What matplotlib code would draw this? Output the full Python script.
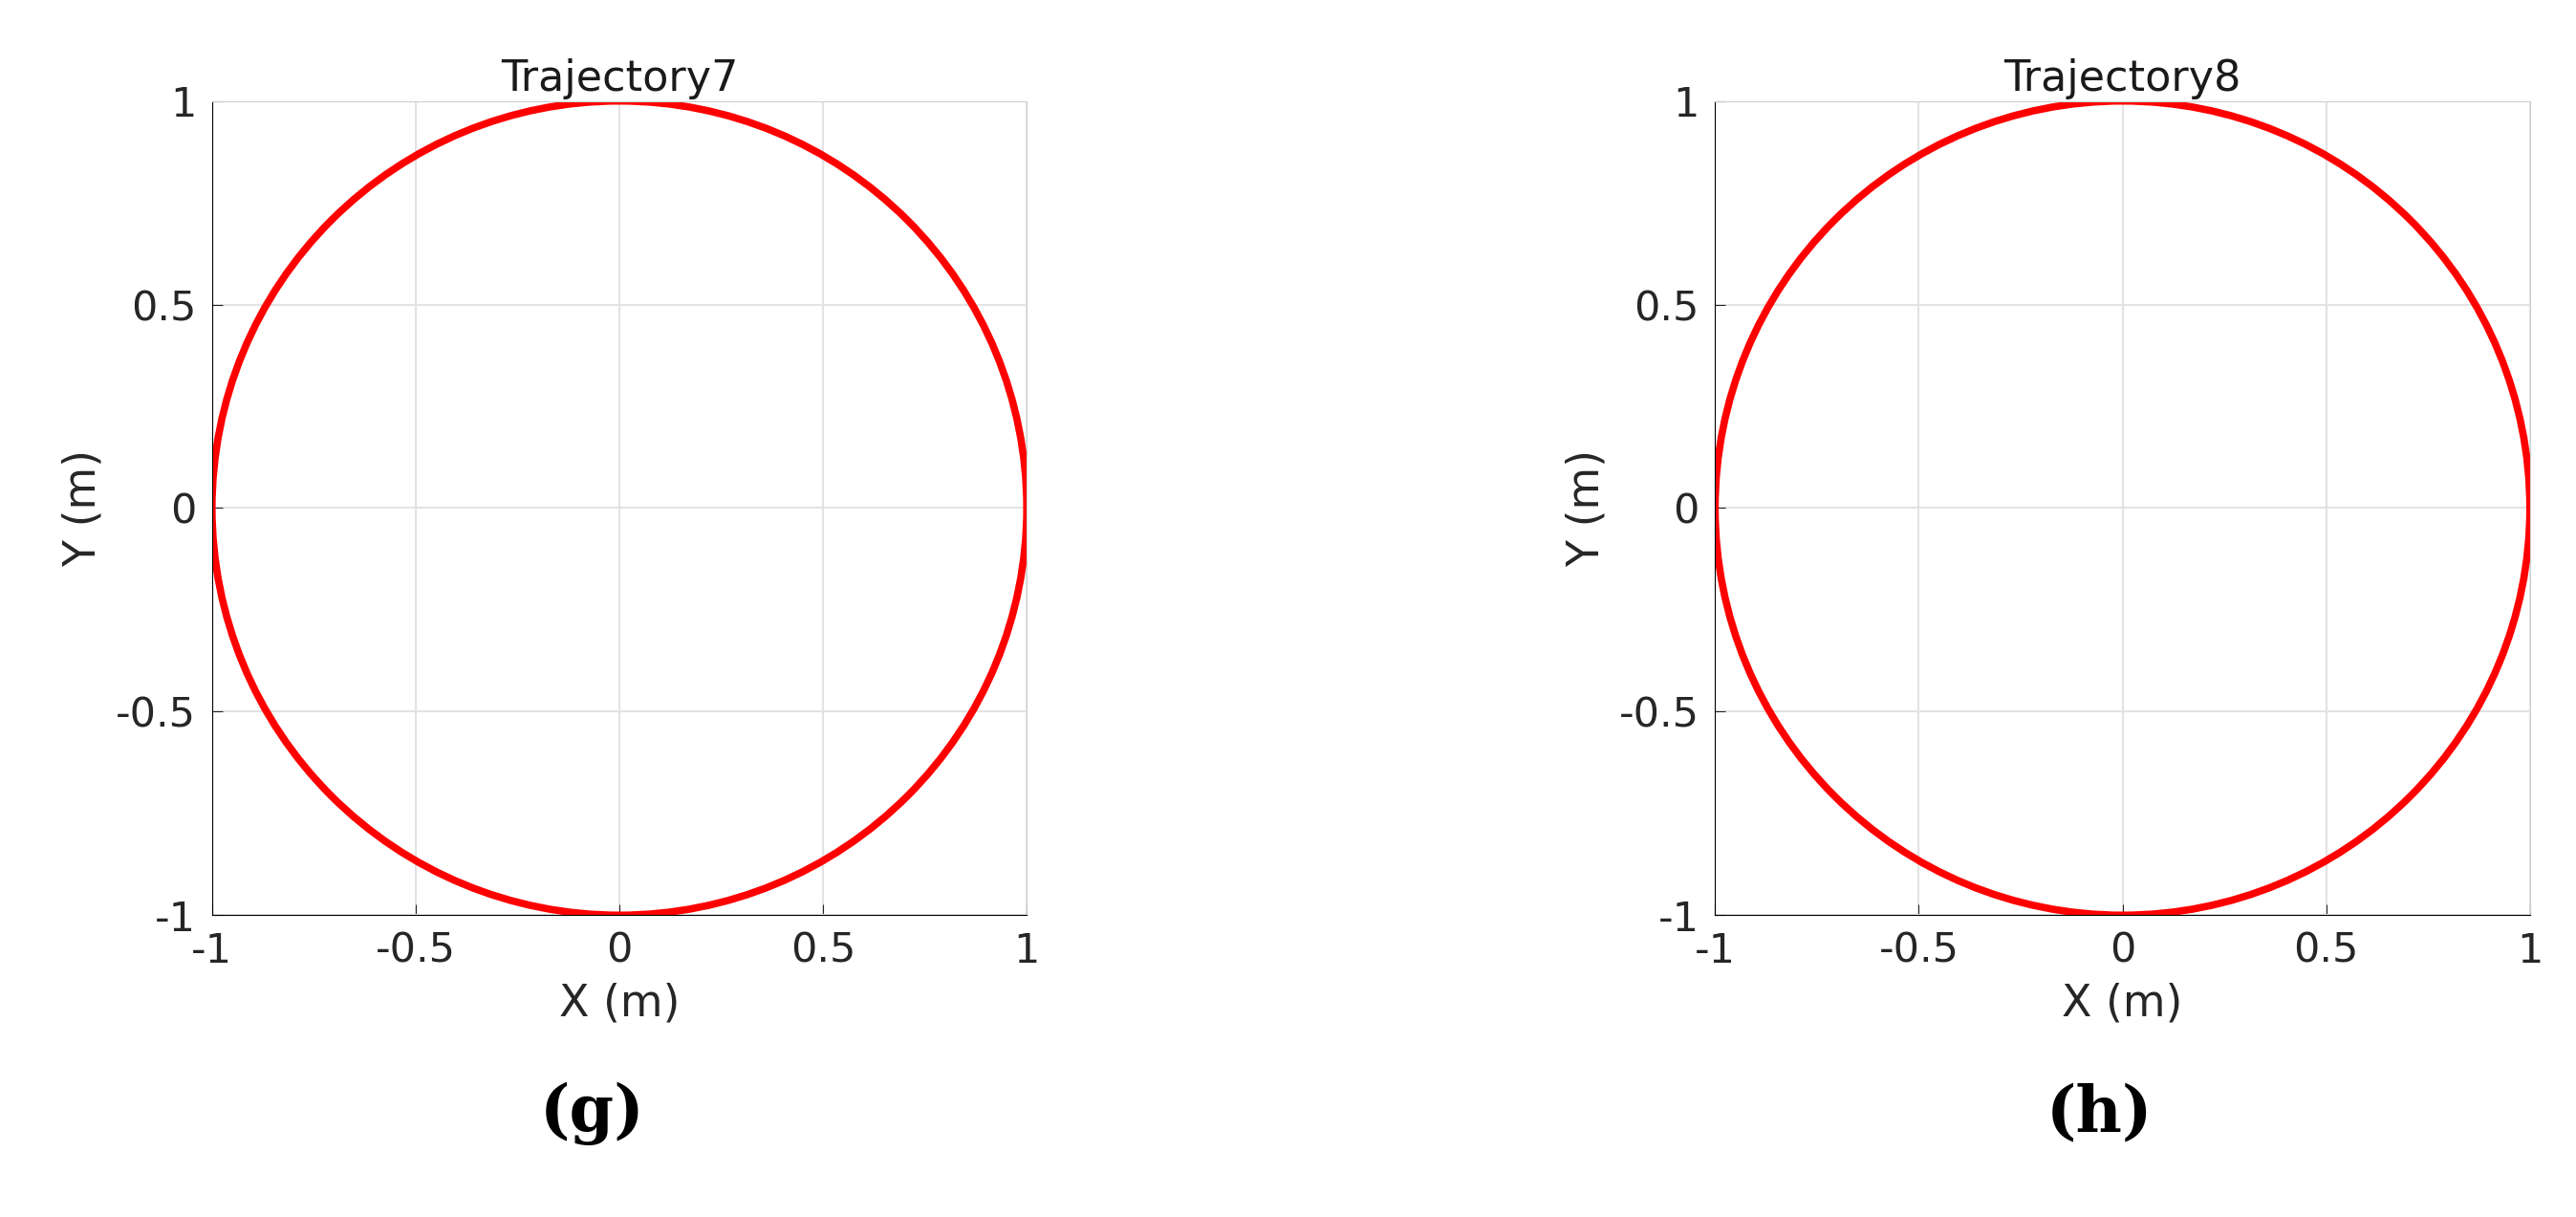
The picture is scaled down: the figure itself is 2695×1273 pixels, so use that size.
import matplotlib.pyplot as plt
from matplotlib.patches import Circle

titles = ['Trajectory7', 'Trajectory8']
panel_labels = ['(g)', '(h)']
centers = [(0.0, 0.0), (0.0, 0.0)]
radii = [1.0, 1.0]
ticks = [-1, -0.5, 0, 0.5, 1]
tick_labels = ['-1', '-0.5', '0', '0.5', '1']

plt.rcParams['font.family'] = ['DejaVu Sans']
fig = plt.figure(figsize=(26.95, 12.73), dpi=100)

lefts = [0.0823, 0.6658]
label_x = [0.23, 0.815]
for i in range(2):
    ax = fig.add_axes([lefts[i], 0.248, 0.3163, 0.669])
    ax.add_patch(Circle(centers[i], radii[i], fill=False, color='red', lw=5.5))
    ax.set_xlim(-1, 1)
    ax.set_ylim(-1, 1)
    ax.set_xticks(ticks)
    ax.set_xticklabels(tick_labels)
    ax.set_yticks(ticks)
    ax.set_yticklabels(tick_labels)
    ax.grid(True, color='#e3e3e3', lw=1.5)
    ax.set_axisbelow(True)
    ax.tick_params(labelsize=31, direction='in', length=8, colors='#262626', pad=12)
    for s in ['top', 'right']:
        ax.spines[s].set_color('#d0d0d0')
    ax.set_title(titles[i], fontsize=32, color='#1a1a1a', pad=8)
    ax.set_xlabel('X (m)', fontsize=33, color='#262626', labelpad=8)
    ax.set_ylabel('Y (m)', fontsize=33, color='#262626', labelpad=8)
    fig.text(label_x[i], 0.085, panel_labels[i], fontsize=48, fontweight='bold',
             family='DejaVu Serif', ha='center', va='center')

fig.savefig('out.png', dpi=100)
